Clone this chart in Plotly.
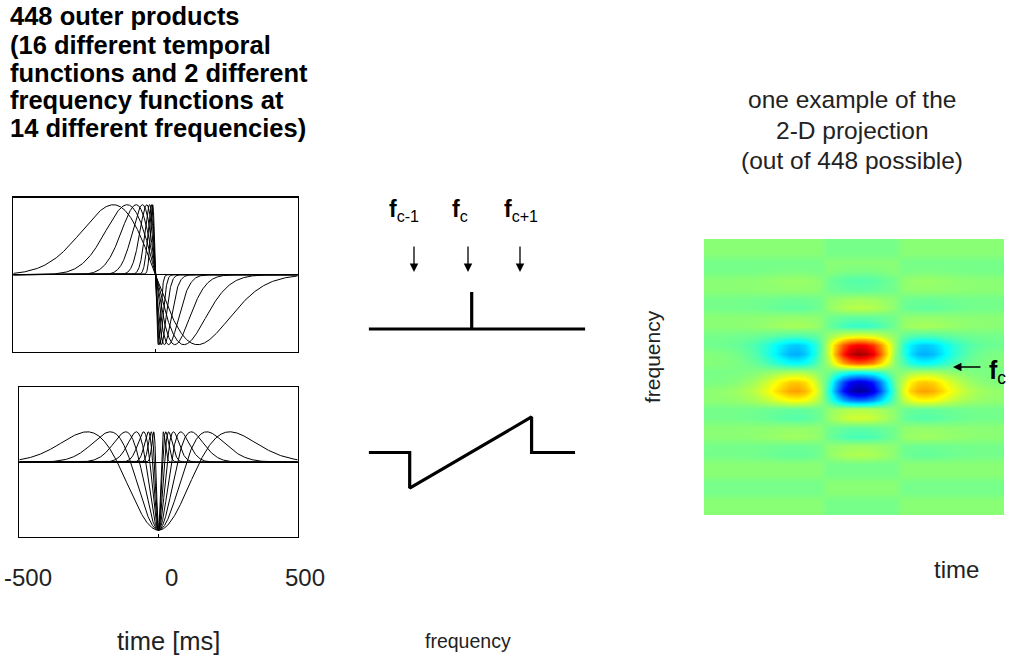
import numpy as np
import plotly.graph_objects as go

W, H = 1010, 662

# ---------------- data ----------------
# widths (ms) of the 8 temporal kernels (odd + even type -> 16 temporal functions)
sigma_ms = [148, 100, 68, 46, 31, 21, 15, 10]
time_ms = np.linspace(-500, 500, 2001)
time_ticks = [-500, 0, 500]

# frequency functions, frequency in bins relative to f_c
delta_freq = [-1.87, 0.07, 0.07, 0.07, 2.21]
delta_val = [0, 0, 1, 0, 0]
ramp_freq = [-1.87, -1.1, -1.1, 1.2, 1.2, 2.02]
ramp_val = [0, 0, -1, 1, 0, 0]
freq_labels = ["c-1", "c", "c+1"]

# 2-D projection: frequency profile (rows, top -> bottom) and time profile (columns)
freq_profile = [0, 0, 0, -0.03, -0.07, -0.04, 0.05, 0.10, -0.04, -0.14,
                0.20, 0.78, 1.00, 0.62, -0.25, -0.88, -0.98, -0.55, 0.08, 0.15,
                -0.05, -0.10, 0.04, 0.08, 0, 0, 0, 0, 0, 0]
time_profile = [-0.01, -0.015, -0.02, -0.03, -0.045, -0.07, -0.10, -0.15, -0.22, -0.30,
                -0.38, -0.44, -0.45, -0.40, -0.27, -0.10, 0.15, 0.45, 0.75, 0.92,
                1.00, 0.97, 0.85, 0.62, 0.32, 0.05, -0.18, -0.34, -0.43, -0.45,
                -0.42, -0.35, -0.26, -0.19, -0.13, -0.09, -0.06, -0.04, -0.03, -0.02]
row_stripe = [0.02, 0.02, -0.02, -0.02] * 7 + [0.02, 0.02]
col_tint = [1] * 16 + [-1] * 10 + [1] * 14

# ---------------- helpers ----------------
def px(x):
    return x / W

def py(y):
    return 1 - y / H

FONT = "Liberation Sans"

fig = go.Figure()

# left panels: temporal functions
for s in sigma_ms:
    u = time_ms / s
    odd = -u * np.exp(0.5 * (1 - u ** 2))
    even = -(1 - u ** 2) * np.exp(-0.5 * u ** 2)
    fig.add_trace(go.Scatter(x=time_ms, y=odd, mode="lines", line=dict(color="black", width=1),
                             xaxis="x", yaxis="y", showlegend=False, hoverinfo="skip"))
    fig.add_trace(go.Scatter(x=time_ms, y=even, mode="lines", line=dict(color="black", width=1),
                             xaxis="x2", yaxis="y2", showlegend=False, hoverinfo="skip"))

# middle: frequency functions
fig.add_trace(go.Scatter(x=delta_freq, y=delta_val, mode="lines",
                         line=dict(color="black", width=3.2), xaxis="x3", yaxis="y3",
                         showlegend=False, hoverinfo="skip"))
fig.add_trace(go.Scatter(x=ramp_freq, y=ramp_val, mode="lines",
                         line=dict(color="black", width=3.2), xaxis="x4", yaxis="y4",
                         showlegend=False, hoverinfo="skip"))

# right: 2-D projection (outer product)
z = np.outer(freq_profile, time_profile) + np.outer(row_stripe, col_tint)
jet = [[0, "rgb(0,0,128)"], [0.125, "rgb(0,0,255)"], [0.375, "rgb(0,255,255)"],
       [0.625, "rgb(255,255,0)"], [0.875, "rgb(255,0,0)"], [1, "rgb(128,0,0)"]]
fig.add_trace(go.Heatmap(z=z, x=list(range(len(time_profile))), y=list(range(len(freq_profile))),
                         colorscale=jet, zmin=-1.05, zmax=1.05, zsmooth="best",
                         showscale=False, xaxis="x5", yaxis="y5", hoverinfo="skip"))

box = dict(showline=True, mirror=True, linecolor="black", linewidth=1.3,
           showgrid=False, zeroline=False, fixedrange=True)
hidden = dict(visible=False, showgrid=False, zeroline=False, fixedrange=True)

fig.update_layout(
    width=W, height=H, margin=dict(l=0, r=0, t=0, b=0),
    paper_bgcolor="white", plot_bgcolor="white", showlegend=False,
    xaxis=dict(**box, domain=[px(13.3), px(297.7)], range=[-500, 500], tickvals=[0],
               ticks="inside", ticklen=3, tickcolor="black", showticklabels=False, anchor="y"),
    yaxis=dict(showline=True, mirror=True, linecolor="black", linewidth=1.3, showgrid=False,
               zeroline=True, zerolinecolor="black", zerolinewidth=1.3, fixedrange=True,
               domain=[py(351.7), py(197.7)], range=[-1.1, 1.1], showticklabels=False,
               ticks="", anchor="x"),
    xaxis2=dict(**box, domain=[px(19.3), px(297.7)], range=[-500, 500], tickvals=[0],
                ticks="inside", ticklen=3, tickcolor="black", showticklabels=False, anchor="y2"),
    yaxis2=dict(showline=True, mirror=True, linecolor="black", linewidth=1.3, showgrid=False,
                zeroline=True, zerolinecolor="black", zerolinewidth=1.3, fixedrange=True,
                domain=[py(537), py(387.3)], range=[-1.1, 1.1], showticklabels=False,
                ticks="", anchor="x2"),
    xaxis3=dict(**hidden, domain=[px(340), px(600)], range=[-2.415, 2.491], anchor="y3"),
    yaxis3=dict(**hidden, domain=[py(340), py(285)], range=[-0.297, 1.189], anchor="x3"),
    xaxis4=dict(**hidden, domain=[px(340), px(600)], range=[-2.415, 2.491], anchor="y4"),
    yaxis4=dict(**hidden, domain=[py(495), py(410)], range=[-1.197, 1.197], anchor="x4"),
    xaxis5=dict(**hidden, domain=[px(704), px(1004)], range=[-0.5, len(time_profile) - 0.5],
                anchor="y5"),
    yaxis5=dict(**hidden, domain=[py(515), py(239)], range=[len(freq_profile) - 0.5, -0.5],
                anchor="x5"),
)

ann = []
title_lines = ["448 outer products", "(16 different temporal", "functions and 2 different",
               "frequency functions at", "14 different frequencies)"]
title_y = [16, 45, 73, 100, 128]
for t, yy in zip(title_lines, title_y):
    ann.append(dict(text="<b>%s</b>" % t, x=px(8), y=py(yy), xref="paper", yref="paper",
                    xanchor="left", yanchor="middle", showarrow=False,
                    font=dict(family=FONT, size=25.5, color="black")))

right_lines = ["one example of the", "2-D projection", "(out of 448 possible)"]
right_y = [99, 130, 160]
for t, yy in zip(right_lines, right_y):
    ann.append(dict(text=t, x=px(852), y=py(yy), xref="paper", yref="paper",
                    xanchor="center", yanchor="middle", showarrow=False,
                    font=dict(family=FONT, size=24.5, color="#222")))

# time tick labels (placed as in the reference, slightly right of the ticks)
tick_x = [27.5, 171, 305]
for v, xx in zip(time_ticks, tick_x):
    ann.append(dict(text=str(v), x=px(xx), y=py(577), xref="paper", yref="paper",
                    xanchor="center", yanchor="middle", showarrow=False,
                    font=dict(family=FONT, size=24, color="#222")))

ann.append(dict(text="time [ms]", x=px(168), y=py(641), xref="paper", yref="paper",
                xanchor="center", yanchor="middle", showarrow=False,
                font=dict(family=FONT, size=25.5, color="#222")))
ann.append(dict(text="frequency", x=px(468), y=py(641), xref="paper", yref="paper",
                xanchor="center", yanchor="middle", showarrow=False,
                font=dict(family=FONT, size=19.5, color="#222")))
ann.append(dict(text="frequency", x=px(652), y=py(357), xref="paper", yref="paper",
                xanchor="center", yanchor="middle", showarrow=False, textangle=-90,
                font=dict(family=FONT, size=21, color="#222")))
ann.append(dict(text="time", x=px(956), y=py(569), xref="paper", yref="paper",
                xanchor="center", yanchor="middle", showarrow=False,
                font=dict(family=FONT, size=24, color="#222")))

# frequency labels and down arrows
label_px = [404, 460, 521]
arrow_px = [414, 468, 520]
for lab, lx, axx in zip(freq_labels, label_px, arrow_px):
    ann.append(dict(text="<b>f</b><sub>%s</sub>" % lab, x=px(lx), y=py(211), xref="paper",
                    yref="paper", xanchor="center", yanchor="middle", showarrow=False,
                    font=dict(family=FONT, size=23, color="black")))
    ann.append(dict(text="", x=px(axx), y=py(272), xref="paper", yref="paper",
                    showarrow=True, ax=0, ay=-27, arrowhead=2, arrowsize=1.3,
                    arrowwidth=1.3, arrowcolor="black"))

# f_c marker on the 2-D projection
ann.append(dict(text="", x=px(953), y=py(367), xref="paper", yref="paper",
                showarrow=True, ax=29, ay=0, arrowhead=2, arrowsize=1.3,
                arrowwidth=1.3, arrowcolor="black"))
ann.append(dict(text="<b>f</b><sub>c</sub>", x=px(987), y=py(372), xref="paper", yref="paper",
                xanchor="left", yanchor="middle", showarrow=False,
                font=dict(family=FONT, size=25, color="black")))

fig.update_layout(annotations=ann)
fig.write_html("out.html", config={"displayModeBar": False, "staticPlot": True},
               post_script="document.body.style.margin='0px';document.body.style.overflow='hidden';")
